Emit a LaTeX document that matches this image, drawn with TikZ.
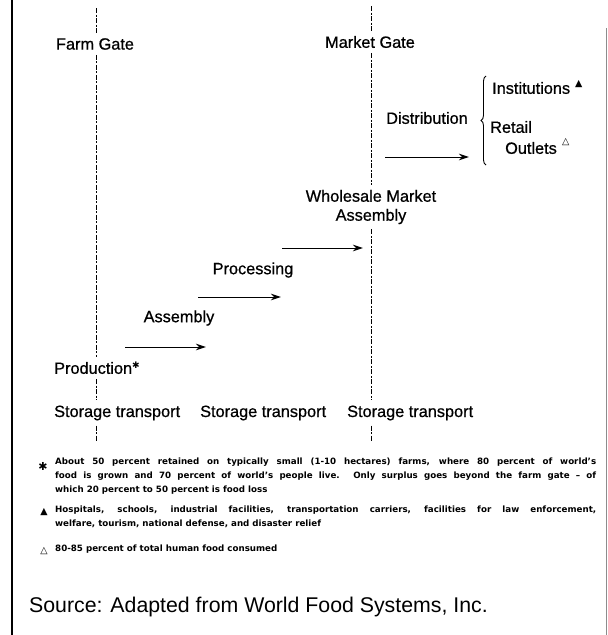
\documentclass[tikz,border=0pt]{standalone}
\usepackage{fontspec}
\setmainfont{Liberation Sans}
\newfontfamily\lblfont{Liberation Sans}[FakeBold=0.7]
\newfontfamily\symfont{DejaVu Sans}[Ligatures=TeX]
\usetikzlibrary{arrows.meta,decorations.pathreplacing,calc}
\begin{document}
\begin{tikzpicture}[x=1pt,y=1pt,
  lbl/.style={inner sep=0pt,font=\lblfont\fontsize{16.3}{19}\selectfont},
  gate/.style={line width=0.9pt,dash pattern=on 5pt off 1.5pt on 2pt off 1.5pt,shorten <=5pt,shorten >=5pt},
  flow/.style={line width=1pt,-{Stealth[length=10pt,width=6.5pt]}},
  note/.style={inner sep=0pt,anchor=north west,text width=541pt,align=justify,font=\symfont\fontsize{8.7}{13.6}\selectfont\bfseries},
  symmark/.style={inner sep=0pt,font=\symfont\fontsize{9.5}{9.5}\selectfont}]
\useasboundingbox (0,0) rectangle (608,-635);
\fill[white] (0,0) rectangle (608,-635);
% borders
\draw[line width=2.4pt] (12,0) -- (12,-635);
\draw[line width=0.8pt,black!45] (606.5,-28) -- (606.5,-635);
% labels
\node[lbl] (farm) at (95,-44) {Farm Gate};
\node[lbl] (market) at (370,-42) {Market Gate};
\node[lbl] (dist) at (427,-118) {Distribution};
\node[lbl,anchor=west] (inst) at (492,-88) {Institutions};
\node[symmark,anchor=west] (instm) at (575,-84) {▲};
\node[lbl,anchor=west] (retail) at (490,-127) {Retail};
\node[lbl,anchor=west] (outlets) at (505,-148) {Outlets};
\node[symmark,anchor=west] (outm) at (562,-142) {△};
\node[lbl,align=center] (whole) at (371,-207) {Wholesale Market\\Assembly};
\node[lbl] (proc) at (253,-270) {Processing};
\node[lbl] (assem) at (179,-318) {Assembly};
\node[lbl,anchor=west] (prod) at (54,-368) {Production\raisebox{5pt}{\symfont\bfseries\fontsize{9}{9}\selectfont ✱}};
\node[lbl,anchor=west] (st1) at (54,-413) {Storage transport};
\node[lbl,anchor=west] (st2) at (200,-413) {Storage transport};
\node[lbl,anchor=west] (st3) at (347,-413) {Storage transport};
% gate lines
\coordinate (ftop) at (96,-3);
\coordinate (fbot) at (96,-447);
\coordinate (mtop) at (371,-1);
\coordinate (mbot) at (371,-447);
\draw[gate] (ftop) -- (farm.north -| ftop);
\draw[gate] (farm.south -| ftop) -- (prod.north -| ftop);
\draw[gate] (prod.south -| ftop) -- (st1.north -| ftop);
\draw[gate] (st1.south -| ftop) -- (fbot);
\draw[gate] (mtop) -- (market.north -| mtop);
\draw[gate] (market.south -| mtop) -- (whole.north -| mtop);
\draw[gate] (whole.south -| mtop) -- (st3.north -| mtop);
\draw[gate] (st3.south -| mtop) -- (mbot);
% flow arrows
\coordinate (a1s) at (125,-347); \coordinate (a1e) at (206,-347);
\coordinate (a2s) at (198,-297); \coordinate (a2e) at (281,-297);
\coordinate (a3s) at (282,-248); \coordinate (a3e) at (363,-248);
\coordinate (a4s) at (385,-157); \coordinate (a4e) at (469,-157);
\draw[flow] (a1s) -- (a1e);
\draw[flow] (a2s) -- (a2e);
\draw[flow] (a3s) -- (a3e);
\draw[flow] (a4s) -- (a4e);
% brace
\coordinate (bb) at (486,-165);
\coordinate (bt) at (486,-76);
\draw[line width=0.9pt,decorate,decoration={brace,amplitude=5pt}] (bb) -- (bt);
% footnotes
\node[inner sep=0pt,font=\symfont\bfseries\fontsize{11}{11}\selectfont] (n1m) at (43,-466) {✱};
\node[note] (n1) at (55,-458) {About 50 percent retained on typically small (1-10 hectares) farms, where 80 percent of world's\linebreak food is grown and 70 percent of world's people live. Only surplus goes beyond the farm gate -- of\linebreak which 20 percent to 50 percent is food loss};
\node[symmark] (n2m) at (44,-512) {▲};
\node[note] (n2) at (55,-506) {Hospitals, schools, industrial facilities, transportation carriers, facilities for law enforcement,\linebreak welfare, tourism, national defense, and disaster relief};
\node[symmark] (n3m) at (44,-551) {△};
\node[note] (n3) at (55,-545) {80-85 percent of total human food consumed};
% source
\node[inner sep=0pt,anchor=west,font=\fontsize{21.3}{24}\selectfont] (src) at (29,-607) {Source: Adapted from World Food Systems, Inc.};
\end{tikzpicture}
\end{document}
